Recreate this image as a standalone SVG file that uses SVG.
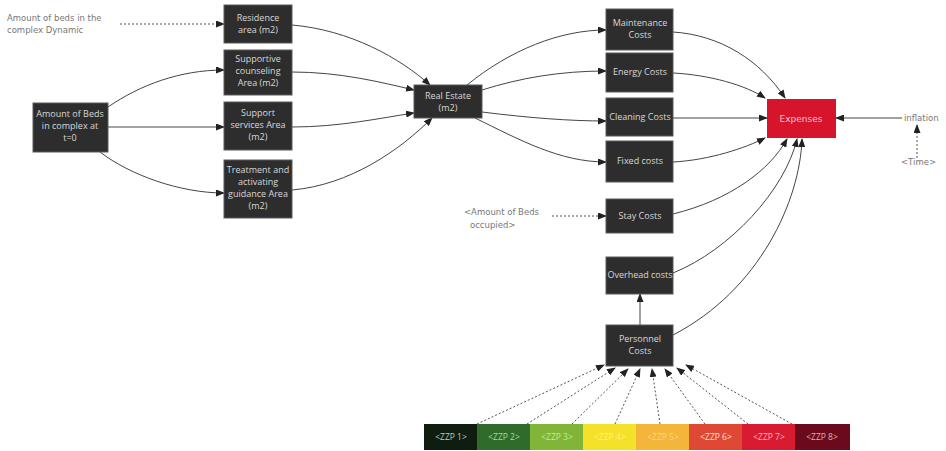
<svg xmlns="http://www.w3.org/2000/svg" width="946" height="451" viewBox="0 0 946 451">
  <style>
    .node rect { fill: #2d2d2d; stroke: #5a5a5a; stroke-width: 1; }
    .node text { font-family: "Open Sans", "Liberation Sans", sans-serif; font-size: 9px; fill: #d8d8d8; text-anchor: middle; }
    .aux { font-family: "DejaVu Sans", "Liberation Sans", sans-serif; font-size: 8.5px; fill: #777; }
    .link { fill: none; stroke: #444; stroke-width: 1; marker-end: url(#arr); }
    .dot { fill: none; stroke: #555; stroke-width: 1; stroke-dasharray: 2 2; marker-end: url(#arr); }
    .zzp text { font-family: "Open Sans", "Liberation Sans", sans-serif; font-size: 8.5px; text-anchor: middle; }
  </style>
  <defs>
    <marker id="arr" markerUnits="userSpaceOnUse" markerWidth="9" markerHeight="7" refX="8" refY="3.5" orient="auto">
      <path d="M0,0 L9,3.5 L0,7 z" fill="#222"/>
    </marker>
  </defs>
  <rect width="946" height="451" fill="#ffffff"/>

  <!-- auxiliary variable labels -->
  <text class="aux" x="7" y="21">Amount of beds in the</text>
  <text class="aux" x="7" y="33">complex Dynamic</text>
  <text class="aux" x="464" y="215">&lt;Amount of Beds</text>
  <text class="aux" x="470" y="228">occupied&gt;</text>
  <text class="aux" x="904" y="121">inflation</text>
  <text class="aux" x="901" y="165">&lt;Time&gt;</text>

  <!-- connectors -->
  <g id="connectors">
    <path class="dot" d="M120,24 L224,24"/>
    <path class="link" d="M108,107 C140,85 180,70 224,70"/>
    <path class="link" d="M108,127 L224,127"/>
    <path class="link" d="M100,152 C130,175 180,193 224,193"/>
    <path class="link" d="M292,25 C350,30 400,58 430,85"/>
    <path class="link" d="M292,72 C340,72 380,82 414,90"/>
    <path class="link" d="M292,127 C340,127 380,118 414,113"/>
    <path class="link" d="M292,190 C350,185 400,150 432,118"/>
    <path class="link" d="M467,85 C510,50 560,30 606,30"/>
    <path class="link" d="M482,90 C520,78 560,71 606,71"/>
    <path class="link" d="M482,112 C530,118 570,121 606,121"/>
    <path class="link" d="M475,118 C520,140 560,162 606,162"/>
    <path class="link" d="M673,32 C720,35 760,60 785,98"/>
    <path class="link" d="M673,73 C710,75 745,85 765,98"/>
    <path class="link" d="M673,118 L767,118"/>
    <path class="link" d="M673,162 C710,160 745,148 765,138"/>
    <path class="link" d="M673,214 C730,200 770,170 787,139"/>
    <path class="link" d="M673,273 C730,250 785,190 797,139"/>
    <path class="link" d="M673,335 C760,290 800,200 802,139"/>
    <path class="link" d="M902,118 L836,118"/>
    <path class="dot" d="M917,158 L917,125"/>
    <path class="dot" d="M552,216 L606,216"/>
    <path class="link" d="M640,325 L640,294"/>
    <path class="dot" d="M477,424 L604,365"/>
    <path class="dot" d="M527,424 L615,368"/>
    <path class="dot" d="M572,424 L628,369"/>
    <path class="dot" d="M615,424 L640,369"/>
    <path class="dot" d="M660,424 L652,369"/>
    <path class="dot" d="M705,424 L665,369"/>
    <path class="dot" d="M748,424 L677,368"/>
    <path class="dot" d="M792,424 L686,365"/>
  </g>

  <!-- stocks and variables -->
  <g id="n-residence" class="node"><rect x="224" y="5" width="68" height="38"/><text x="258" y="21">Residence</text><text x="258" y="33">area (m2)</text></g>
  <g id="n-supportive" class="node"><rect x="224" y="50" width="68" height="45"/><text x="258" y="62">Supportive</text><text x="258" y="74">counseling</text><text x="258" y="86">Area (m2)</text></g>
  <g id="n-services" class="node"><rect x="224" y="102" width="68" height="48"/><text x="258" y="116">Support</text><text x="258" y="128">services Area</text><text x="258" y="140">(m2)</text></g>
  <g id="n-treatment" class="node"><rect x="224" y="160" width="68" height="58"/><text x="258" y="173">Treatment and</text><text x="258" y="185">activating</text><text x="258" y="197">guidance Area</text><text x="258" y="209">(m2)</text></g>
  <g id="n-beds" class="node"><rect x="33" y="103" width="75" height="49"/><text x="70" y="117">Amount of Beds</text><text x="70" y="129">in complex at</text><text x="70" y="141">t=0</text></g>
  <g id="n-realestate" class="node"><rect x="414" y="85" width="68" height="33"/><text x="448" y="99">Real Estate</text><text x="448" y="111">(m2)</text></g>
  <g id="n-maintenance" class="node"><rect x="606" y="9" width="67" height="41"/><text x="640" y="26">Maintenance</text><text x="640" y="38">Costs</text></g>
  <g id="n-energy" class="node"><rect x="606" y="53" width="67" height="39"/><text x="640" y="75">Energy Costs</text></g>
  <g id="n-cleaning" class="node"><rect x="606" y="98" width="67" height="38"/><text x="640" y="120">Cleaning Costs</text></g>
  <g id="n-fixed" class="node"><rect x="606" y="141" width="67" height="41"/><text x="640" y="164">Fixed costs</text></g>
  <g id="n-stay" class="node"><rect x="606" y="199" width="67" height="34"/><text x="640" y="219">Stay Costs</text></g>
  <g id="n-overhead" class="node"><rect x="606" y="257" width="67" height="37"/><text x="640" y="278">Overhead costs</text></g>
  <g id="n-personnel" class="node"><rect x="606" y="325" width="67" height="41"/><text x="640" y="342">Personnel</text><text x="640" y="354">Costs</text></g>
  <g id="n-expenses"><rect x="767" y="99" width="69" height="39" fill="#d6142c"/><text x="801" y="122" font-family="DejaVu Sans, Liberation Sans, sans-serif" font-size="9" fill="#f4c4c8" text-anchor="middle">Expenses</text></g>

  <!-- care intensity classes -->
  <g id="n-zzp" class="zzp">
    <rect x="424" y="424" width="54" height="26" fill="#0f1c10"/><text x="451" y="440" fill="#b8d0b8">&lt;ZZP 1&gt;</text>
    <rect x="477" y="424" width="54" height="26" fill="#2f6b2a"/><text x="504" y="440" fill="#a8d8a0">&lt;ZZP 2&gt;</text>
    <rect x="530" y="424" width="54" height="26" fill="#80b53a"/><text x="557" y="440" fill="#c8e890">&lt;ZZP 3&gt;</text>
    <rect x="583" y="424" width="54" height="26" fill="#f4e22a"/><text x="610" y="440" fill="#fbf08a">&lt;ZZP 4&gt;</text>
    <rect x="636" y="424" width="54" height="26" fill="#f3b53a"/><text x="663" y="440" fill="#f8d690">&lt;ZZP 5&gt;</text>
    <rect x="689" y="424" width="54" height="26" fill="#e04836"/><text x="716" y="440" fill="#fde0d8">&lt;ZZP 6&gt;</text>
    <rect x="742" y="424" width="54" height="26" fill="#d81b30"/><text x="769" y="440" fill="#f5b8c0">&lt;ZZP 7&gt;</text>
    <rect x="795" y="424" width="55" height="26" fill="#6a0a1c"/><text x="822" y="440" fill="#e0b0b8">&lt;ZZP 8&gt;</text>
  </g>
</svg>
